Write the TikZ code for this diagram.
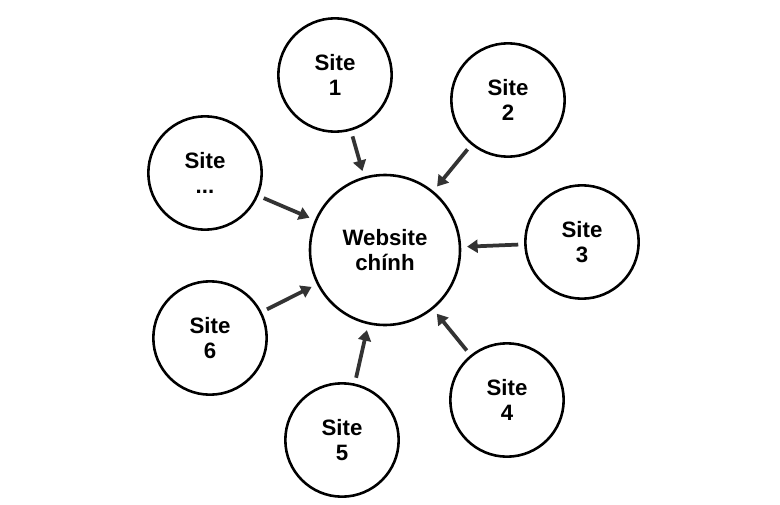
\documentclass[tikz,border=0pt]{standalone}
\usepackage{fontspec}
\setmainfont{Liberation Sans}
\usetikzlibrary{arrows.meta}
\begin{document}
\begin{tikzpicture}[x=0.03cm,y=-0.03cm]
  \tikzset{
    site node/.style={circle,draw,line width=2.2pt,minimum size=3.4cm,inner sep=0,
      align=center,font=\fontsize{19}{22}\selectfont\bfseries},
    main node/.style={site node,minimum size=4.5cm},
    site edge/.style={-{Triangle[length=9pt,width=11pt]},line width=3.2pt,
      draw=black!80,shorten <=5pt,shorten >=5pt}
  }
  \useasboundingbox (0,0) rectangle (780,505);
  \node[main node] (W) at (385,250) {Website\\chính};
  \node[site node] (1) at (335,75) {Site\\1};
  \node[site node] (2) at (508,100) {Site\\2};
  \node[site node] (3) at (582,242) {Site\\3};
  \node[site node] (4) at (507,400) {Site\\4};
  \node[site node] (5) at (342,440) {Site\\5};
  \node[site node] (6) at (210,338) {Site\\6};
  \node[site node] (0) at (205,173) {Site\\...};

  \foreach \s in {1,2,3,4,5,6,0}
    \draw[site edge] (\s) -- (W);
\end{tikzpicture}
\end{document}
